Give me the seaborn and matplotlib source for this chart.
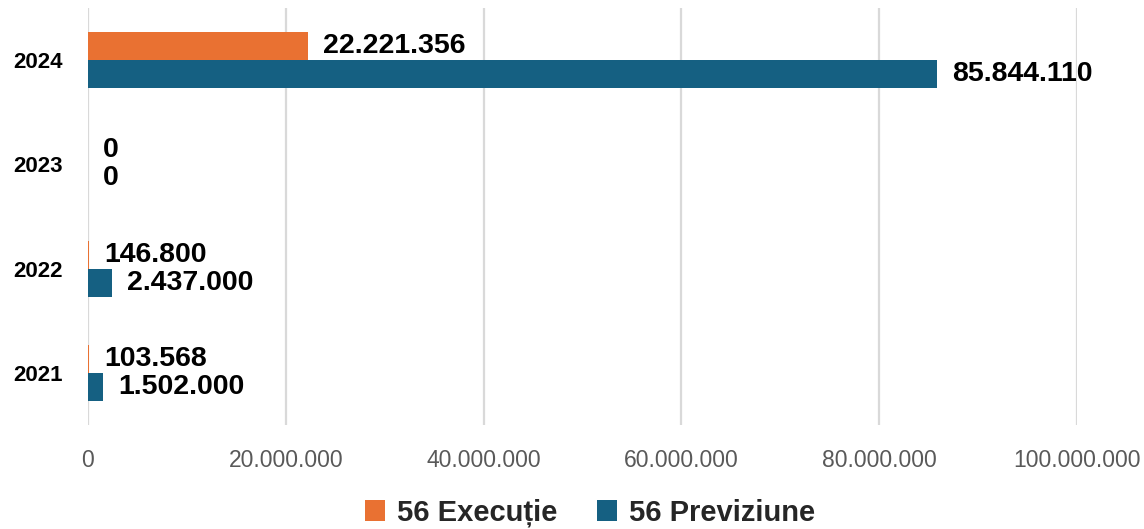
import matplotlib
matplotlib.use("Agg")
import matplotlib.pyplot as plt
import seaborn as sns
import pandas as pd
from matplotlib.patches import Patch

years = ["2024", "2023", "2022", "2021"]
executie = [22221356, 0, 146800, 103568]
previziune = [85844110, 0, 2437000, 1502000]
series_names = ["56 Execuție", "56 Previziune"]
xticks = [0, 20000000, 40000000, 60000000, 80000000, 100000000]

colors = ["#E97132", "#156082"]

df = pd.DataFrame({
    "year": years * 2,
    "value": executie + previziune,
    "series": [series_names[0]] * len(years) + [series_names[1]] * len(years),
})

sns.set_theme(style="white")
plt.rcParams["font.family"] = ["Liberation Sans", "DejaVu Sans"]

fig = plt.figure(figsize=(11.44, 5.29), dpi=100)
ax = fig.add_axes([88 / 1144, 1 - 425 / 529, (1077 - 88) / 1144, (425 - 8) / 529])

sns.barplot(data=df, y="year", x="value", hue="series", order=years,
            hue_order=series_names, palette=colors, orient="h",
            width=0.535, gap=0, saturation=1, ax=ax, legend=False,
            linewidth=0, edgecolor="none")

def fmt(v):
    return f"{int(v):,}".replace(",", ".")

for cont, vals in zip(ax.containers, [executie, previziune]):
    ax.bar_label(cont, labels=[fmt(v) for v in vals], padding=11,
                 fontsize=20.5, fontweight="bold", color="black")

ax.set_xlim(0, 100000000)
ax.set_ylim(3.5, -0.5)
ax.set_xticks(xticks)
ax.set_xticklabels([fmt(v) for v in xticks], fontsize=16.5, color="#595959")
ax.tick_params(axis="x", length=0, pad=17)
ax.tick_params(axis="y", length=0, pad=18)
for lab in ax.get_yticklabels():
    lab.set_fontsize(16)
    lab.set_fontweight("bold")
    lab.set_color("black")
ax.set_xlabel("")
ax.set_ylabel("")
ax.grid(axis="x", color="#D9D9D9", linewidth=1.6)
ax.grid(axis="y", visible=False)
ax.set_axisbelow(True)
for s in ax.spines.values():
    s.set_visible(False)

handles = [Patch(facecolor=c, edgecolor="none") for c in colors]
fig.legend(handles, series_names, loc="center", bbox_to_anchor=(590 / 1144, 1 - 513 / 529),
           ncol=2, frameon=False, prop={"size": 21, "weight": "bold"},
           handlelength=0.7, handleheight=0.7, handletextpad=0.4, columnspacing=1.35)

fig.savefig("out.png", dpi=100)
